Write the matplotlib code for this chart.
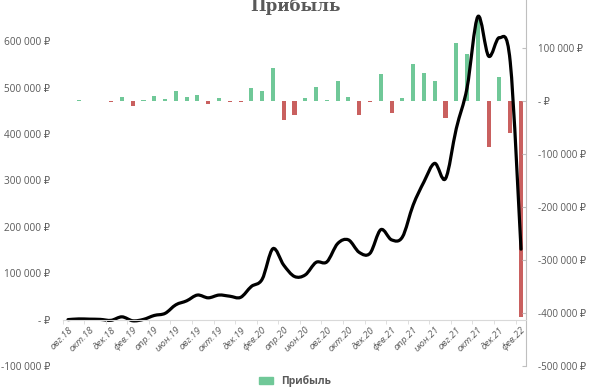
import numpy as np
import matplotlib
matplotlib.use("Agg")
import matplotlib.pyplot as plt
from matplotlib.path import Path
from matplotlib.patches import PathPatch, Patch

plt.rcParams['font.family'] = ['Open Sans', 'DejaVu Sans']

# месяцы авг.18 .. фев.22
months = ['авг.18', 'сен.18', 'окт.18', 'ноя.18', 'дек.18', 'янв.19', 'фев.19', 'мар.19',
          'апр.19', 'май.19', 'июн.19', 'июл.19', 'авг.19', 'сен.19', 'окт.19', 'ноя.19',
          'дек.19', 'янв.20', 'фев.20', 'мар.20', 'апр.20', 'май.20', 'июн.20', 'июл.20',
          'авг.20', 'сен.20', 'окт.20', 'ноя.20', 'дек.20', 'янв.21', 'фев.21', 'мар.21',
          'апр.21', 'май.21', 'июн.21', 'июл.21', 'авг.21', 'сен.21', 'окт.21', 'ноя.21',
          'дек.21', 'янв.22', 'фев.22']

# накопленная прибыль (левая ось)
total = [0, 1500, 1000, 500, -1500, 6000, -2500, 500, 9000, 13500,
         32000, 40500, 53000, 47000, 53000, 50500, 48000, 71500, 87000, 153000,
         117500, 93000, 96500, 123500, 124500, 164000, 172000, 145000, 143000, 194000,
         172000, 178000, 247000, 297000, 337000, 304000, 412000, 500000, 653500, 568000,
         608000, 556000, 152000]

# прибыль за месяц (правая ось), с сен.18
monthly = [1000, -500, -500, -1000, 8000, -9000, 2500, 10000, 4000, 19000,
           8000, 12000, -6000, 6000, -2500, -2500, 24000, 18000, 63000, -36000,
           -26000, 5000, 27000, 1000, 38000, 8000, -26000, -2000, 50000, -22000,
           6000, 69000, 52000, 38000, -33000, 109000, 89000, 153000, -86000, 45000,
           -60000, -408000]

green = '#70C898'
red = '#C9605F'
gray = '#595959'


def rub(v, pos=None):
    if v == 0:
        return '- ₽'
    return f"{int(v):,}".replace(',', ' ') + ' ₽'


def smooth_path(xs, ys):
    # кривая Безье как в Excel (сглаженная линия)
    pts = np.column_stack([xs, ys]).astype(float)
    n = len(pts)
    verts = [pts[0]]
    codes = [Path.MOVETO]
    for i in range(n - 1):
        p0 = pts[i - 1] if i > 0 else pts[i]
        p1 = pts[i]
        p2 = pts[i + 1]
        p3 = pts[i + 2] if i + 2 < n else pts[i + 1]
        c1 = p1 + (p2 - p0) / 6
        c2 = p2 - (p3 - p1) / 6
        verts += [c1, c2, p2]
        codes += [Path.CURVE4] * 3
    return Path(verts, codes)


fig = plt.figure(figsize=(5.9, 3.91), dpi=100)
ax = fig.add_axes([62.6 / 590, 25 / 391, 463.8 / 590, 371 / 391])
ax2 = ax.twinx()

x = np.arange(len(months))
xb = x[1:]
cols = [green if v >= 0 else red for v in monthly]
ax2.bar(xb, monthly, width=0.38, color=cols)

ax.add_patch(PathPatch(smooth_path(x, total), fill=False, lw=2.3, color='black',
                       capstyle='round', joinstyle='round'))

ax.set_zorder(ax2.get_zorder() + 1)
ax.patch.set_visible(False)

ax.set_xlim(-0.5, len(months) - 0.5)
ax.set_ylim(-100000, 700000)
ax2.set_ylim(-500000, 200000)

ax.set_yticks(np.arange(-100000, 700000, 100000))
ax.yaxis.set_major_formatter(plt.FuncFormatter(rub))
ax2.set_yticks(np.arange(-500000, 200000, 100000))
ax2.yaxis.set_major_formatter(plt.FuncFormatter(rub))

for s in ['top', 'left', 'right']:
    ax.spines[s].set_visible(False)
ax.spines['bottom'].set_position(('data', 0))
ax.spines['bottom'].set_color('#D9D9D9')
for s in ['top', 'left', 'bottom']:
    ax2.spines[s].set_visible(False)
ax2.spines['right'].set_color('#BFBFBF')

ax.tick_params(axis='y', length=0, pad=9, labelsize=7.2, labelcolor=gray)
ax2.tick_params(axis='y', direction='in', length=3, color='#BFBFBF', pad=8,
                labelsize=7.0, labelcolor=gray)

ax.set_xticks(x[::2])
ax.set_xticklabels(months[::2], rotation=45, ha='right', va='top',
                   rotation_mode='anchor', fontsize=6.8, color=gray, style='italic')
ax.set_xticks(np.arange(-0.5, len(months) - 1, 2), minor=True)
ax.tick_params(axis='x', which='major', length=0, pad=4)
ax.tick_params(axis='x', which='minor', length=3, color='#D9D9D9')

fig.text(0.5, 1 - 11 / 391, 'Прибыль', ha='center', va='baseline',
         fontsize=12, fontweight='bold', color=gray, family='DejaVu Serif')

fig.legend(handles=[Patch(color=green, label='Прибыль')], loc='center',
           bbox_to_anchor=(0.5, 10 / 391), frameon=False, handlelength=1.4,
           handleheight=0.6, prop={'weight': 'bold', 'size': 7.5}, labelcolor=gray)

fig.savefig('out.png', dpi=100)
